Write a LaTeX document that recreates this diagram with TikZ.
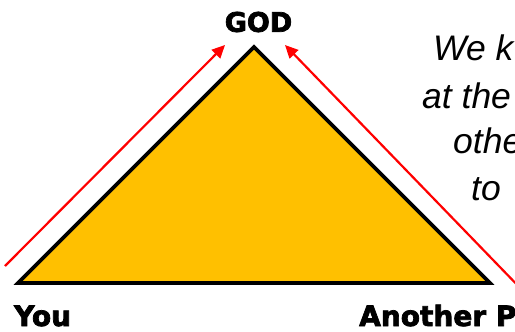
\documentclass[tikz,border=0pt]{standalone}
\usepackage{fontspec}
\setmainfont{Liberation Sans}
\newfontfamily\heavyfont{DejaVu Sans}[UprightFont=* Bold,UprightFeatures={FakeBold=2.6}]
\usetikzlibrary{arrows.meta}
\definecolor{pyramid}{RGB}{255,192,0}
\definecolor{arrowred}{RGB}{255,0,0}
\begin{document}
\begin{tikzpicture}[x=1pt,y=-1pt,
  tri/.style={fill=pyramid,draw=black,line width=3.6pt,line join=miter},
  redarrow/.style={draw=arrowred,line width=2.2pt,-{Triangle[length=13pt,width=12pt]}},
  heavylabel/.style={font=\heavyfont\fontsize{27}{30}\selectfont,inner sep=0pt},
  quote/.style={font=\fontsize{35.5}{42}\selectfont\itshape,inner sep=0pt,anchor=base west}]
\useasboundingbox (0,0) rectangle (515,332);
\clip (0,0) rectangle (515,332);
\coordinate (apex) at (254,47);
\coordinate (left) at (18,283);
\coordinate (right) at (490,283);
\draw[tri] (left) -- (apex) -- (right) -- cycle;
\node[heavylabel] (god) at (258.5,22) {GOD};
\node[heavylabel,anchor=base west,font=\heavyfont\fontsize{28}{30}\selectfont] (you) at (14,326) {You};
\node[heavylabel,anchor=base west,font=\heavyfont\fontsize{28}{30}\selectfont] (other) at (359,326) {Another P};
\coordinate (la) at (5,266);
\coordinate (lb) at (225,45);
\coordinate (ra) at (526,294);
\coordinate (rb) at (285,45);
\draw[redarrow] (la) -- (lb);
\draw[redarrow] (ra) -- (rb);
\node[quote] (q1) at (433,60) {We k};
\node[quote] (q2) at (422,108) {at the};
\node[quote] (q3) at (453,153) {othe};
\node[quote] (q4) at (471,200) {to};
\end{tikzpicture}
\end{document}
